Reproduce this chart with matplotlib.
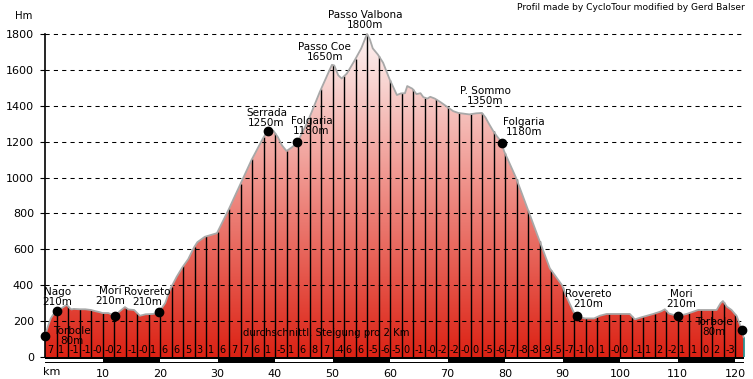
import numpy as np
import matplotlib
matplotlib.use('Agg')
import matplotlib.pyplot as plt
from matplotlib.colors import LinearSegmentedColormap
from matplotlib.patches import Rectangle

# ---------------- data ----------------
km = [0.0, 0.5, 1.0, 1.5, 2.0, 2.8, 3.5, 3.8, 4.2, 4.6, 5.0, 6.0, 7.0, 8.0, 8.8, 9.5,
      10.0, 11.0, 12.2, 13.0, 13.9, 14.5, 15.5, 16.5, 17.5, 18.8, 19.8, 20.9, 21.7,
      22.9, 23.9, 24.9, 25.9, 26.5, 27.8, 29.9, 31.9, 33.9, 35.9, 37.9, 38.7, 39.7,
      40.5, 41.2, 42.0, 43.0, 43.9, 45.8, 47.8, 49.5, 49.9, 50.3, 51.0, 51.6, 52.5,
      53.8, 55.0, 56.0, 56.5, 57.0, 57.9, 58.8, 59.9, 61.2, 61.9, 62.6, 63.0, 63.9,
      64.6, 65.3, 65.8, 66.5, 67.0, 67.8, 68.8, 69.9, 71.0, 71.9, 73.8, 75.0, 76.0,
      76.6, 77.2, 77.9, 78.6, 79.5, 79.8, 81.9, 83.8, 85.8, 87.8, 89.9, 90.7, 91.9,
      92.5, 93.9, 95.5, 96.5, 97.7, 99.7, 101.7, 102.6, 103.8, 105.8, 107.2, 107.8,
      108.5, 110.1, 111.6, 113.6, 115.7, 116.8, 117.5, 117.9, 118.6, 119.4, 120.3,
      121.2, 121.5]
elev = [115, 170, 215, 240, 258, 270, 285, 290, 275, 265, 268, 266, 266, 262, 255, 250,
        245, 245, 230, 255, 278, 265, 262, 230, 238, 240, 250, 300, 373,
        447, 500, 545, 610, 640, 670, 690, 819, 958, 1097, 1218, 1260, 1262,
        1225, 1180, 1148, 1170, 1196, 1320, 1478, 1600, 1628, 1625, 1570, 1552, 1580,
        1650, 1720, 1800, 1770, 1720, 1685, 1640, 1550, 1460, 1469, 1470, 1510, 1495,
        1465, 1470, 1448, 1440, 1450, 1440, 1420, 1395, 1370, 1360, 1352, 1358, 1360,
        1335, 1300, 1262, 1230, 1194, 1150, 1000, 837, 665, 494, 401, 336, 252,
        228, 215, 215, 230, 240, 240, 240, 210, 222, 240, 255, 266,
        242, 228, 240, 262, 262, 262, 300, 312, 280, 262, 228,
        150, 110]

grades = ['7', '1', '-1', '-1', '-0', '-0', '2', '-1', '-0', '1',
          '6', '6', '5', '3', '1', '6', '7', '7', '6', '1',
          '-5', '1', '6', '8', '7', '-4', '6', '6', '-5', '-6',
          '-5', '0', '-1', '-0', '-2', '-2', '-0', '0', '-5', '-6',
          '-7', '-8', '-8', '-9', '-5', '-7', '-1', '0', '1', '-0',
          '0', '-1', '1', '2', '-2', '1', '1', '0', '2', '-3']

dot_names = ['Torbole\n80m', 'Nago\n210m', 'Mori\n210m', 'Rovereto\n210m',
             'Serrada\n1250m', 'Folgaria\n1180m', 'Folgaria\n1180m',
             'Rovereto\n210m', 'Mori\n210m', 'Torbole\n80m']
dot_km = [0.0, 2.0, 12.2, 19.8, 38.7, 43.9, 79.5, 92.5, 110.1, 121.2]
dot_offsets = [(27, 0), (1, 14), (-5, 20), (-12, 15), (-1, 13), (14, 16),
               (22, 16), (11, 17), (3, 17), (-28, 3)]

peak_names = ['Passo Coe\n1650m', 'Passo Valbona\n1800m', 'P. Sommo\n1350m']
peak_km = [49.9, 56.0, 76.0]
peak_offsets = [(-7, 13), (-2, 14), (3, 17)]

yticks = list(range(0, 1801, 200))
xticks = list(range(10, 121, 10))

# ---------------- figure ----------------
W, H = 753, 379
fig = plt.figure(figsize=(W / 100, H / 100), dpi=100)
px_per_km = 5.75
px_per_m = 323 / 1800.0
ax_left, ax_right = 45, 745
ax_bottom_px, ax_top_px = 363, 0          # from top of image
zero_px = 357
ax = fig.add_axes([ax_left / W, (H - ax_bottom_px) / H,
                   (ax_right - ax_left) / W, (ax_bottom_px - ax_top_px) / H])
xmax = (ax_right - ax_left) / px_per_km
ymin = -(ax_bottom_px - zero_px) / px_per_m
ymax = (zero_px - ax_top_px) / px_per_m
ax.set_xlim(0, xmax)
ax.set_ylim(ymin, ymax)

km_a = np.array(km)
el_a = np.array(elev)

# gradient fill clipped to profile
cmap = LinearSegmentedColormap.from_list('prof', ['#dc2214', '#ee8a82', '#fdf4f3'])
grad = np.linspace(0, 1, 256).reshape(-1, 1)
poly = ax.fill_between(km_a, 0, el_a, facecolor='none', edgecolor='none')
im = ax.imshow(grad, cmap=cmap, origin='lower', aspect='auto',
               extent=[0, km_a[-1], 0, 1800], zorder=1, interpolation='bilinear')
im.set_clip_path(poly.get_paths()[0], transform=ax.transData)

# dashed grid
ax.hlines(yticks[1:], 0, xmax, colors='black', linewidth=0.75,
          linestyles=(0, (4, 4)), zorder=2)

# vertical 2 km lines
vk = np.arange(2, 121, 2)
ax.vlines(vk, 0, np.interp(vk, km_a, el_a), colors='black', linewidth=1.0, zorder=3)
ax.vlines(km_a[-1], 0, el_a[-1], colors='#1a8a8a', linewidth=1.2, zorder=3)

# outline
ax.plot(km_a, el_a, color='#a8a8a8', linewidth=1.3, zorder=3)

# bottom distance bar
ax.add_patch(Rectangle((0, ymin), km_a[-1], -ymin, facecolor='black',
                       edgecolor='none', zorder=3))
for s in range(0, 121, 20):
    e = min(s + 10, km_a[-1])
    ax.add_patch(Rectangle((s, -29), e - s, 18, facecolor='white',
                           edgecolor='none', zorder=4))

# gradient labels
for i, g in enumerate(grades):
    ax.text(2 * i + 0.3, 39, g, fontsize=7, ha='left', va='center', zorder=5)
ax.text(34.4, 134, 'durchschnittl. Steigung pro 2 Km', fontsize=7.3,
        ha='left', va='center', zorder=5)

# dots and labels
dot_el = np.interp(dot_km, km_a, el_a)
ax.plot(dot_km, dot_el, 'o', color='black', markersize=6, zorder=6, clip_on=False)
for name, k, e, off in zip(dot_names, dot_km, dot_el, dot_offsets):
    ax.annotate(name, (k, e), xytext=off, textcoords='offset pixels',
                ha='center', va='center', fontsize=7.5, linespacing=1.0,
                multialignment='center', zorder=6)
peak_el = np.interp(peak_km, km_a, el_a)
for name, k, e, off in zip(peak_names, peak_km, peak_el, peak_offsets):
    ax.annotate(name, (k, e), xytext=off, textcoords='offset pixels',
                ha='center', va='center', fontsize=7.5, linespacing=1.0,
                multialignment='center', zorder=6)

# axes styling
for s in ['top', 'right', 'bottom']:
    ax.spines[s].set_visible(False)
ax.spines['left'].set_bounds(0, 1800)
ax.spines['left'].set_linewidth(1.2)
ax.set_yticks(yticks)
ax.tick_params(axis='y', length=3.6, width=0.8, pad=4.3, labelsize=8)
ax.set_xticks(xticks)
ax.tick_params(axis='x', length=0, pad=4.5, labelsize=8)
ax.text(-0.3, ymin, 'km', fontsize=8, ha='left', va='top',
        transform=ax.transData)
ax.texts[-1].set_position((-0.3, ymin - 22))

fig.text(15 / W, 1 - 15.7 / H, 'Hm', fontsize=7.3, ha='left', va='center')
fig.text(745 / W, 1 - 7.5 / H, 'Profil made by CycloTour modified by Gerd Balser',
         fontsize=6.6, ha='right', va='center')

fig.savefig('out.png', dpi=100)
